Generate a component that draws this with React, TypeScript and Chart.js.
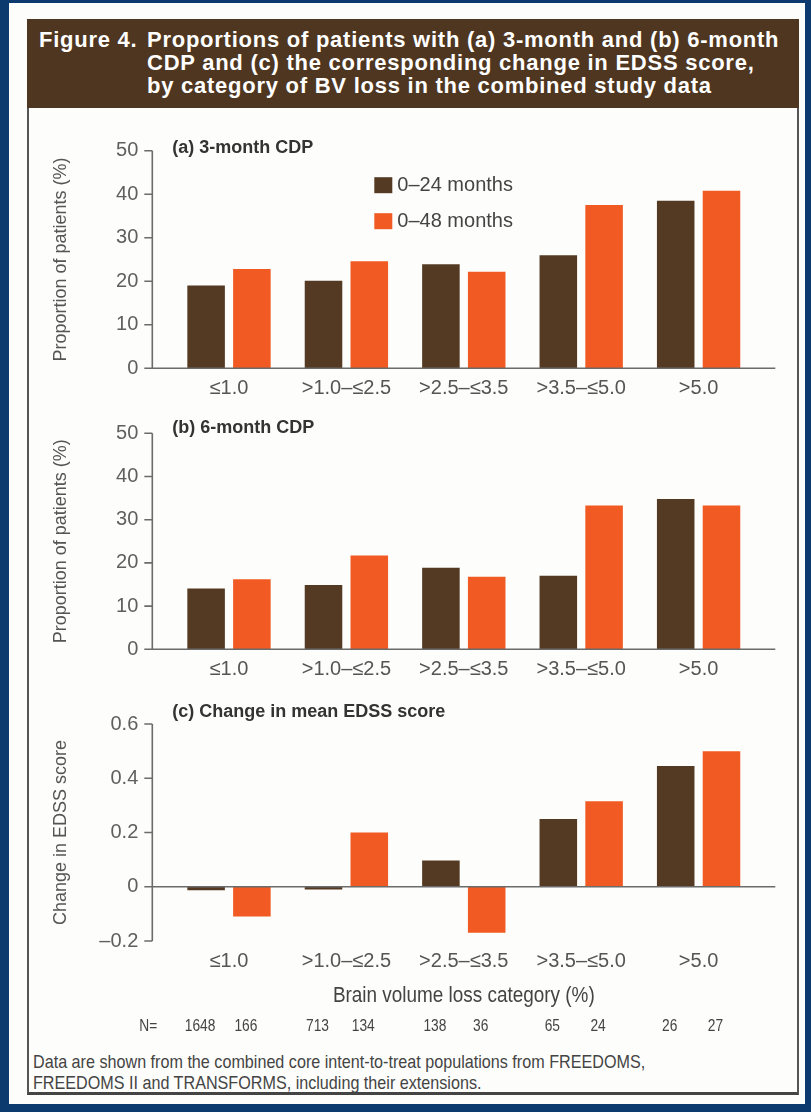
import React, { useEffect, useRef } from 'react';
import { Chart, registerables } from 'chart.js';

Chart.register(...registerables);

// ---------- data ----------
const categories = ['≤1.0', '>1.0–≤2.5', '>2.5–≤3.5', '>3.5–≤5.0', '>5.0'];
const seriesLabels = ['0–24 months', '0–48 months'];

const cdp3m24 = [19.0, 20.1, 23.9, 26.0, 38.5];
const cdp3m48 = [22.8, 24.6, 22.2, 37.5, 40.8];

const cdp6m24 = [14.1, 14.9, 18.9, 17.0, 34.8];
const cdp6m48 = [16.2, 21.7, 16.8, 33.3, 33.3];

const edss24 = [-0.013, -0.01, 0.097, 0.25, 0.445];
const edss48 = [-0.11, 0.2, -0.17, 0.315, 0.5];

const n24 = [1648, 713, 138, 65, 26];
const n48 = [166, 134, 36, 24, 27];

const pctTickLabels = ['0', '10', '20', '30', '40', '50'];
const edssTickLabels = ['–0.2', '0', '0.2', '0.4', '0.6'];

const panelTitles = ['(a) 3-month CDP', '(b) 6-month CDP', '(c) Change in mean EDSS score'];
const yTitles = ['Proportion of patients (%)', 'Proportion of patients (%)', 'Change in EDSS score'];
const xTitle = 'Brain volume loss category (%)';

// ---------- styles ----------
const BROWN = '#553a23';
const ORANGE = '#f15a22';
const SANS = "'Liberation Sans', Arial, Helvetica, sans-serif";
const W = 811;
const AREA_LEFT = 170.3;
const AREA_RIGHT = 757.3;
const AXIS_GAP = 18;
const CONDENSE = 0.86;

const decorPlugin = {
  id: 'panelDecor',
  afterDatasetsDraw(chart: any, _args: any, opts: any) {
    const { ctx, chartArea, scales } = chart;
    const ys = scales.y;
    const xs = scales.x;
    const ax = chartArea.left - AXIS_GAP;
    ctx.save();
    // axes
    ctx.strokeStyle = '#6b6b6b';
    ctx.lineWidth = 1.6;
    ctx.beginPath();
    ctx.moveTo(ax, ys.getPixelForValue(ys.max));
    ctx.lineTo(ax, ys.getPixelForValue(ys.min));
    ys.ticks.forEach((t: any) => {
      const py = ys.getPixelForValue(t.value);
      ctx.moveTo(ax - 8, py);
      ctx.lineTo(ax, py);
    });
    const y0 = ys.getPixelForValue(0);
    ctx.moveTo(ax - 8, y0);
    ctx.lineTo(chartArea.right + AXIS_GAP, y0);
    ctx.stroke();

    // panel title
    ctx.fillStyle = '#333';
    ctx.font = `bold 18px ${SANS}`;
    ctx.textAlign = 'left';
    ctx.textBaseline = 'alphabetic';
    ctx.fillText(opts.title, chartArea.left + 2, chartArea.top + opts.titleDy);

    // legend
    if (opts.legend) {
      const lx = chartArea.left + 204;
      const ly = chartArea.top + 26.5;
      chart.data.datasets.forEach((ds: any, i: number) => {
        ctx.fillStyle = ds.backgroundColor;
        ctx.fillRect(lx, ly + i * 36, 18, 16);
        ctx.fillStyle = '#444';
        ctx.font = `20px ${SANS}`;
        ctx.textBaseline = 'middle';
        ctx.fillText(ds.label, lx + 23, ly + i * 36 + 8);
      });
    }

    // x title + N row (condensed text)
    if (opts.nRow) {
      const drawCond = (text: string, x: number, y: number, font: string) => {
        ctx.save();
        ctx.font = font;
        ctx.textBaseline = 'middle';
        ctx.textAlign = 'center';
        ctx.translate(x, y);
        ctx.scale(CONDENSE, 1);
        ctx.fillText(text, 0, 0);
        ctx.restore();
      };
      ctx.fillStyle = '#444';
      drawCond(opts.xTitle, (chartArea.left + chartArea.right) / 2, xs.bottom - 49, `22px ${SANS}`);
      const ny = xs.bottom - 18;
      const nf = `16px ${SANS}`;
      drawCond('N=', ax - 4, ny, nf);
      [n24, n48].forEach((arr, di) => {
        const meta = chart.getDatasetMeta(di);
        arr.forEach((n, i) => {
          drawCond(String(n), meta.data[i].x - 6, ny, nf);
        });
      });
    }
    ctx.restore();
  },
};

type Spec = {
  a: number[];
  b: number[];
  height: number;
  areaTop: number;
  xHeight: number;
  min: number;
  max: number;
  step: number;
  tickLabels: string[];
  idx: number;
  titleDy: number;
  legend?: boolean;
  nRow?: boolean;
};

function buildConfig(p: Spec): any {
  return {
    type: 'bar',
    data: {
      labels: categories,
      datasets: [
        { label: seriesLabels[0], data: p.a, backgroundColor: BROWN },
        { label: seriesLabels[1], data: p.b, backgroundColor: ORANGE },
      ],
    },
    options: {
      responsive: false,
      animation: false,
      events: [],
      layout: { padding: { left: 0, right: W - AREA_RIGHT, top: p.areaTop, bottom: 0 } },
      datasets: { bar: { categoryPercentage: 0.78, barPercentage: 0.82 } },
      plugins: {
        legend: { display: false },
        tooltip: { enabled: false },
        title: { display: false },
        panelDecor: {
          title: panelTitles[p.idx],
          titleDy: p.titleDy,
          legend: !!p.legend,
          nRow: !!p.nRow,
          xTitle,
        },
      },
      scales: {
        x: {
          type: 'category',
          grid: { display: false, drawTicks: false },
          border: { display: false },
          ticks: {
            color: '#555',
            font: { family: SANS, size: 20 },
            padding: 8,
            maxRotation: 0,
            autoSkip: false,
          },
          afterFit: (s: any) => {
            s.height = p.xHeight;
          },
          title: { display: false },
        },
        y: {
          type: 'linear',
          min: p.min,
          max: p.max,
          grid: { display: false, drawTicks: false },
          border: { display: false },
          ticks: {
            stepSize: p.step,
            color: '#5f5f5f',
            font: { family: SANS, size: 20 },
            padding: AXIS_GAP + 14,
            callback: (_v: any, i: number) => p.tickLabels[i],
          },
          afterFit: (s: any) => {
            s.width = AREA_LEFT;
            s.paddingTop = 0;
            s.paddingBottom = 0;
          },
          title: {
            display: true,
            text: yTitles[p.idx],
            color: '#555',
            font: { family: SANS, size: 18 },
            padding: { top: 50, bottom: 0 },
          },
        },
      },
    },
    plugins: [decorPlugin],
  };
}

function Panel({ top, spec }: { top: number; spec: Spec }) {
  const ref = useRef<HTMLCanvasElement>(null);
  useEffect(() => {
    const chart = new Chart(ref.current as HTMLCanvasElement, buildConfig(spec));
    return () => chart.destroy();
  }, []);
  return (
    <canvas
      ref={ref}
      width={W}
      height={spec.height}
      style={{ position: 'absolute', left: 0, top, width: W, height: spec.height, display: 'block' }}
    />
  );
}

const specA: Spec = {
  a: cdp3m24, b: cdp3m48, height: 280, areaTop: 20.7, xHeight: 41.7,
  min: 0, max: 50, step: 10, tickLabels: pctTickLabels, idx: 0, titleDy: 2.5, legend: true,
};
const specB: Spec = {
  a: cdp6m24, b: cdp6m48, height: 280, areaTop: 23.3, xHeight: 40.7,
  min: 0, max: 50, step: 10, tickLabels: pctTickLabels, idx: 1, titleDy: 0,
};
const specC: Spec = {
  a: edss24, b: edss48, height: 355, areaTop: 34, xHeight: 104,
  min: -0.2, max: 0.6, step: 0.2, tickLabels: edssTickLabels, idx: 2, titleDy: -7, nRow: true,
};

export default function App() {
  return (
    <div
      style={{
        position: 'absolute', left: 0, top: 0, width: 811, height: 1112,
        background: '#0c3a6e', overflow: 'hidden',
      }}
    >
      <div style={{ position: 'absolute', left: 9, top: 3, width: 796, height: 1101, background: '#fdfdfb' }} />
      <div
        style={{
          position: 'absolute', left: 27, top: 19, width: 772, height: 89,
          background: '#4e3620', color: '#fff', fontFamily: SANS, fontWeight: 'bold',
          fontSize: 22, lineHeight: '23px', letterSpacing: '0.75px', boxSizing: 'border-box',
          padding: '9px 0 0 12px', display: 'flex', whiteSpace: 'nowrap',
        }}
      >
        <div style={{ width: 108, flex: 'none' }}>Figure 4.</div>
        <div>
          Proportions of patients with (a) 3-month and (b) 6-month
          <br />
          CDP and (c) the corresponding change in EDSS score,
          <br />
          by category of BV loss in the combined study data
        </div>
      </div>
      <div
        style={{
          position: 'absolute', left: 27, top: 108, width: 772, height: 987,
          borderLeft: '2px solid #555', borderRight: '2px solid #555', borderBottom: '3px solid #444',
          boxSizing: 'border-box',
        }}
      />
      <Panel top={130} spec={specA} />
      <Panel top={410} spec={specB} />
      <Panel top={690} spec={specC} />
      <div
        style={{
          position: 'absolute', left: 33, top: 1051, width: 900,
          fontFamily: SANS, fontSize: 19, lineHeight: '21px', color: '#444',
          transform: 'scaleX(0.85)', transformOrigin: 'left top', whiteSpace: 'nowrap',
        }}
      >
        Data are shown from the combined core intent-to-treat populations from FREEDOMS,
        <br />
        FREEDOMS II and TRANSFORMS, including their extensions.
      </div>
    </div>
  );
}
